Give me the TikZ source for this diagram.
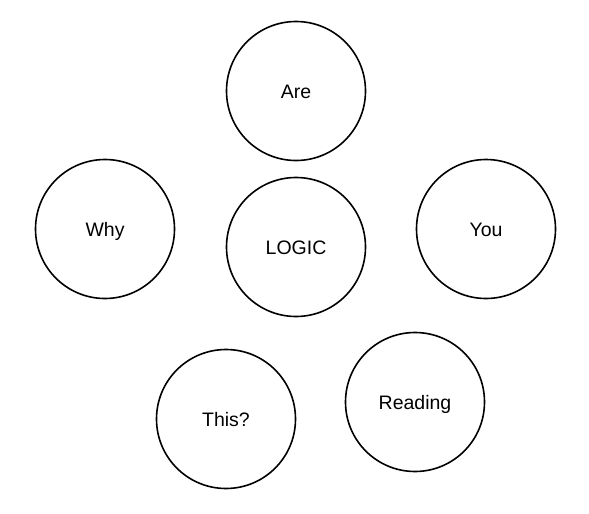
\documentclass[tikz,border=0pt]{standalone}
\usepackage{fontspec}
\setmainfont{Liberation Sans}
\usepackage{tikz}
\tikzstyle{word} = [circle, draw=black, line width=1.6pt, minimum size=139pt, inner sep=0pt, font=\fontsize{19.5}{22}\selectfont, text height=14pt, text depth=0pt, text=black]

\begin{document}
\begin{tikzpicture}[x=1pt, y=-1pt]
    \useasboundingbox (0,0) rectangle (589,514);
    % the six circles
    \node[word] (are) at (296,91) {Are};
    \node[word] (why) at (105,229) {Why};
    \node[word] (logic) at (296,247) {LOGIC};
    \node[word] (you) at (486,229) {You};
    \node[word] (this) at (226,419) {This?};
    \node[word] (reading) at (415,402) {Reading};
\end{tikzpicture}
\end{document}
